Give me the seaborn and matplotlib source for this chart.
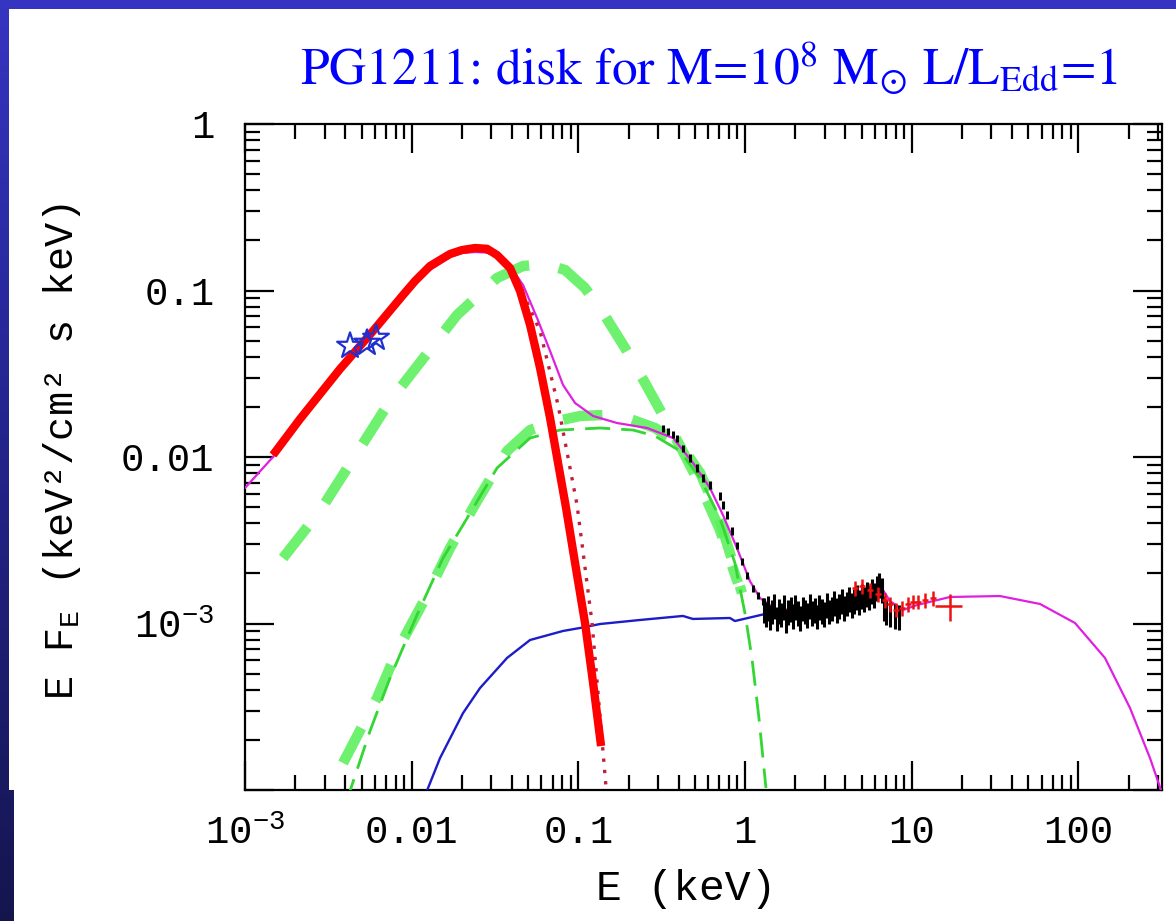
import numpy as np
import pandas as pd
import matplotlib
matplotlib.use("Agg")
import matplotlib.pyplot as plt
import seaborn as sns
from matplotlib.patches import Rectangle
from matplotlib.colors import LinearSegmentedColormap
from matplotlib.ticker import FixedLocator, FixedFormatter, NullFormatter, LogLocator

# ---------------- data ----------------
# total model (magenta)
total_E = [0.00100, 0.001472, 0.002138, 0.003715, 0.005861, 0.008872, 0.01047, 0.01288, 0.01698,
           0.02004, 0.02399, 0.02831, 0.03251, 0.03890, 0.04656, 0.05649, 0.06761, 0.08091, 0.09550,
           0.1225, 0.1706, 0.2585, 0.3702, 0.4878, 0.6152, 0.7362, 0.8933, 1.069,
           1.228, 1.553, 2.698, 4.259, 6.180, 6.714, 7.396, 8.854, 10.74, 16.94,
           33.81, 58.75, 95.3, 144.2, 203.7, 268.5, 316.9]
total_F = [0.00652, 0.01000, 0.01622, 0.03239, 0.05480, 0.09016, 0.1110, 0.1328, 0.1589,
           0.1680, 0.1703, 0.1690, 0.1611, 0.1403, 0.1079, 0.06839, 0.04331, 0.02706, 0.02110,
           0.01763, 0.01600, 0.01493, 0.01300, 0.00920, 0.00652, 0.00449, 0.00284, 0.001799,
           0.001422, 0.001205, 0.001239, 0.001365, 0.001634, 0.001590, 0.001365, 0.001205,
           0.001291, 0.001443, 0.001462, 0.001310, 0.001007, 0.000621, 0.000311,
           0.0001556, 0.0000959]

# accretion disk (thick red) for M=1e8, L/LEdd=1
disk_E = [0.001472, 0.002138, 0.003715, 0.005861, 0.008872, 0.01047, 0.01288, 0.01698, 0.02004,
          0.02399, 0.02831, 0.03251, 0.03890, 0.04467, 0.05129, 0.05888, 0.06761, 0.07551,
          0.08433, 0.09550, 0.1096, 0.1225, 0.1368]
disk_F = [0.01028, 0.01691, 0.03377, 0.05712, 0.09397, 0.1140, 0.1403, 0.1657, 0.1750,
          0.1800, 0.1780, 0.1633, 0.1365, 0.09931, 0.06209, 0.03423, 0.01715, 0.00920,
          0.004940, 0.002309, 0.001007, 0.0004395, 0.0001837]

# disk model of the fit (dotted dark red)
fitdisk_E = [0.001472, 0.002138, 0.003715, 0.005861, 0.008872, 0.01288, 0.01698, 0.02399,
             0.03251, 0.03890, 0.04786, 0.05888, 0.07551, 0.09817, 0.1208, 0.1466]
fitdisk_F = [0.01028, 0.01691, 0.03377, 0.05712, 0.09397, 0.1403, 0.1657, 0.1780,
             0.1633, 0.1365, 0.09016, 0.05712, 0.02052, 0.005150, 0.001007, 0.0001028]

# soft excess component, hot (thick green dashed)
soft1_E = [0.001690, 0.002818, 0.007413, 0.01871, 0.03251, 0.04656, 0.06310, 0.08318,
           0.1096, 0.1445, 0.1905, 0.2512, 0.3090, 0.4074, 0.5370, 0.7063, 0.9057]
soft1_F = [0.002473, 0.004742, 0.02169, 0.07129, 0.1189, 0.1403, 0.1443, 0.1328,
           0.1035, 0.07031, 0.04515, 0.02782, 0.01915, 0.01164, 0.006793, 0.003648, 0.001750]

# soft excess component, warm (thick green dashed)
soft2_E = [0.003873, 0.006194, 0.008166, 0.01236, 0.01698, 0.02466, 0.03733, 0.05129,
           0.07447, 0.1023, 0.1445, 0.2042, 0.2884, 0.4074, 0.5370, 0.6776, 0.8110, 0.9572]
soft2_F = [0.0001452, 0.0003570, 0.0006839, 0.001483, 0.002840, 0.005442, 0.01086, 0.01452,
           0.01644, 0.01763, 0.01788, 0.01691, 0.01493, 0.01197, 0.008017, 0.004742,
           0.002650, 0.001524]

# warm Comptonisation of the fit (thin green dashed)
warm_E = [0.004036, 0.005623, 0.007413, 0.01076, 0.01542, 0.02032, 0.03251, 0.05129,
          0.07762, 0.1349, 0.2128, 0.2884, 0.4074, 0.5370, 0.7063, 0.8690, 0.9977,
          1.099, 1.211, 1.334]
warm_F = [0.0000836, 0.0002262, 0.0004708, 0.001125, 0.002473, 0.003906, 0.008590, 0.01300,
          0.01452, 0.01493, 0.01452, 0.01337, 0.01086, 0.007482, 0.004302, 0.002309,
          0.001156, 0.000621, 0.0002704, 0.0001028]

# hard power law (blue)
hard_E = [0.01186, 0.01479, 0.02032, 0.02570, 0.03733, 0.05129, 0.08091, 0.1023, 0.1349,
          0.2344, 0.4236, 0.4864, 0.8110, 0.8690, 1.315, 1.858]
hard_F = [0.0000895, 0.0001556, 0.0002897, 0.0004098, 0.000621, 0.000796, 0.000902, 0.000940,
          0.000993, 0.001050, 0.001110, 0.001065, 0.001079, 0.001035, 0.001140, 0.001189]

# optical/UV points (stars)
uv_E = [0.004266, 0.005395, 0.006109]
uv_F = [0.04645, 0.04842, 0.05188]

# X-ray spectrum (black)
pn_E = [0.322, 0.344, 0.368, 0.391, 0.424, 0.467, 0.514, 0.558, 0.615, 0.706, 0.736, 0.778,
        0.834, 0.893, 0.957, 1.03, 1.11, 1.19, 1.28,
        1.30, 1.34, 1.38, 1.42, 1.46, 1.50, 1.55, 1.60, 1.65, 1.70, 1.76, 1.82, 1.88, 1.94,
        2.00, 2.07, 2.14, 2.21, 2.28, 2.36, 2.44, 2.52, 2.61, 2.70, 2.79, 2.89, 2.99, 3.09,
        3.20, 3.31, 3.43, 3.55, 3.67, 3.80, 3.93, 4.07, 4.21, 4.36, 4.51, 4.67, 4.83, 5.00,
        5.18, 5.36, 5.55, 5.75, 5.95, 6.16, 6.38, 6.60, 6.83, 7.05, 7.40, 7.90, 8.40]
pn_F = [0.0149, 0.0143, 0.0136, 0.0130, 0.0113, 0.00986, 0.00859, 0.00748, 0.00679, 0.00583,
        0.00515, 0.00449, 0.00360, 0.00296, 0.00237, 0.00195, 0.00163, 0.00148, 0.00136,
        0.00122, 0.00115, 0.00125, 0.00110, 0.00119, 0.00128, 0.00108, 0.00120, 0.00114,
        0.00126, 0.00105, 0.00118, 0.00123, 0.00112, 0.00127, 0.00116, 0.00109, 0.00124,
        0.00119, 0.00113, 0.00129, 0.00117, 0.00121, 0.00111, 0.00126, 0.00120, 0.00115,
        0.00130, 0.00119, 0.00124, 0.00134, 0.00122, 0.00128, 0.00137, 0.00125, 0.00133,
        0.00141, 0.00130, 0.00138, 0.00145, 0.00135, 0.00148, 0.00142, 0.00152, 0.00146,
        0.00158, 0.00150, 0.00165, 0.00172, 0.00160, 0.00125, 0.00118, 0.00115, 0.00112,
        0.00110]
pn_Ferr = [0.05] * 19 + [0.17] * 55

# hard X-ray spectrum (red crosses)
hx_E = [4.56, 5.03, 5.61, 6.27, 6.91, 7.40, 8.04, 8.73, 9.49, 10.2, 10.9, 12.0, 13.4, 16.9]
hx_F = [0.00163, 0.00168, 0.00159, 0.00150, 0.00138, 0.00131, 0.00121, 0.00124, 0.00131,
        0.00135, 0.00135, 0.00138, 0.00142, 0.00127]
hx_Eerr = [0.04] * 13 + [0.19]
hx_Ferr = [0.10] * 13 + [0.18]

x_ticks = [1e-3, 1e-2, 1e-1, 1, 10, 100]
x_ticklabels = [r"10$^{-3}$", "0.01", "0.1", "1", "10", "100"]
y_ticks = [1e-4, 1e-3, 1e-2, 1e-1, 1]
y_ticklabels = ["", r"10$^{-3}$", "0.01", "0.1", "1"]

title = r"PG1211: disk for M=10$^{8}$ M$_{\odot}$ L/L$_{\rm Edd}$=1"

# ---------------- style ----------------
sns.set_theme(style="ticks")
plt.rcParams["font.family"] = ["Liberation Mono", "DejaVu Sans"]
plt.rcParams["mathtext.fontset"] = "custom"
plt.rcParams["mathtext.rm"] = "Liberation Mono"
plt.rcParams["mathtext.it"] = "Liberation Mono"
plt.rcParams["mathtext.bf"] = "Liberation Mono:bold"

W, H = 1176, 921
fig = plt.figure(figsize=(W / 100, H / 100), dpi=100, facecolor="white")

# slide frame
fig.add_artist(Rectangle((0, 1 - 9 / H), 1, 9 / H, transform=fig.transFigure,
                         facecolor="#3535c2", edgecolor="none", zorder=10))
axg = fig.add_axes([0, 0, 9 / W, 1])
cm = LinearSegmentedColormap.from_list("frame", ["#3535c2", "#23238a", "#15154e"])
axg.imshow(np.linspace(0, 1, 256).reshape(-1, 1), aspect="auto", cmap=cm,
           extent=[0, 1, 0, 1], origin="upper")
axg.set_axis_off()
axg2 = fig.add_axes([0, 0, 14 / W, 131 / H])
axg2.imshow(np.linspace(0.85, 1, 64).reshape(-1, 1), aspect="auto", cmap=cm,
            extent=[0, 1, 0, 1], origin="upper", vmin=0, vmax=1)
axg2.set_axis_off()

ax = fig.add_axes([245 / W, 1 - 790 / H, (1162 - 245) / W, (790 - 124) / H])
ax.set_facecolor("white")
ax.set_xscale("log")
ax.set_yscale("log")


def curve(E, F, **kw):
    sns.lineplot(x=E, y=F, ax=ax, estimator=None, sort=False, legend=False, **kw)


thick_green = dict(color="#5ef05e", linewidth=7.5, alpha=0.9,
                   linestyle=(0, (3.8, 2.9)), dash_capstyle="butt", zorder=2)
curve(soft1_E, soft1_F, **thick_green)
curve(soft2_E, soft2_F, **thick_green)
curve(warm_E, warm_F, color="#33d633", linewidth=2.0, linestyle=(0, (9, 4)), zorder=3)
curve(hard_E, hard_F, color="#1c1cc8", linewidth=1.7, zorder=4)
curve(total_E, total_F, color="#e020e0", linewidth=1.6, zorder=5)
curve(fitdisk_E, fitdisk_F, color="#c0203a", linewidth=2.4, linestyle=(0, (1, 2.4)), zorder=6)

pn_E_a = np.array(pn_E)
pn_F_a = np.array(pn_F)
ax.errorbar(pn_E_a, pn_F_a, yerr=pn_F_a * np.array(pn_Ferr), fmt="none",
            ecolor="black", elinewidth=2.2, capsize=0, zorder=7)
hx_E_a = np.array(hx_E)
hx_F_a = np.array(hx_F)
ax.errorbar(hx_E_a, hx_F_a, xerr=hx_E_a * np.array(hx_Eerr), yerr=hx_F_a * np.array(hx_Ferr),
            fmt="none", ecolor="#ee1111", elinewidth=1.8, capsize=0, zorder=8)

curve(disk_E, disk_F, color="#ff0000", linewidth=6.0, solid_capstyle="butt",
      solid_joinstyle="round", zorder=9)

sns.scatterplot(x=uv_E, y=uv_F, ax=ax, marker="*", s=380, facecolor="none",
                edgecolor="#2030d0", linewidth=1.6, zorder=10, legend=False)

ax.set_xlim(1e-3, 10 ** 2.501)
ax.set_ylim(1e-4, 1)

ax.xaxis.set_major_locator(FixedLocator(x_ticks))
ax.xaxis.set_major_formatter(FixedFormatter(x_ticklabels))
ax.xaxis.set_minor_locator(LogLocator(base=10, subs=np.arange(2, 10), numticks=30))
ax.xaxis.set_minor_formatter(NullFormatter())
ax.yaxis.set_major_locator(FixedLocator(y_ticks))
ax.yaxis.set_major_formatter(FixedFormatter(y_ticklabels))
ax.yaxis.set_minor_locator(LogLocator(base=10, subs=np.arange(2, 10), numticks=30))
ax.yaxis.set_minor_formatter(NullFormatter())

ax.tick_params(which="both", direction="in", top=True, right=True, colors="black",
               width=1.6, labelsize=28)
ax.tick_params(which="major", length=21)
ax.tick_params(which="minor", length=11)
ax.tick_params(axis="x", which="major", pad=18)
ax.tick_params(axis="y", which="major", pad=22)
for sp in ax.spines.values():
    sp.set_linewidth(1.6)
    sp.set_color("black")

fig.text(300 / W, 1 - 84 / H, title, color="#0000ff", fontsize=37,
         family="STIXGeneral", math_fontfamily="stix", ha="left", va="baseline")
fig.text(62 / W, 1 - 452 / H, r"E F$_{\rm E}$ (keV²/cm² s keV)", rotation=90,
         fontsize=29, ha="center", va="center", color="black")
fig.text(686 / W, 1 - 889 / H, "E (keV)", fontsize=31, ha="center", va="center",
         color="black")

fig.savefig("out.png", dpi=100, facecolor="white")
